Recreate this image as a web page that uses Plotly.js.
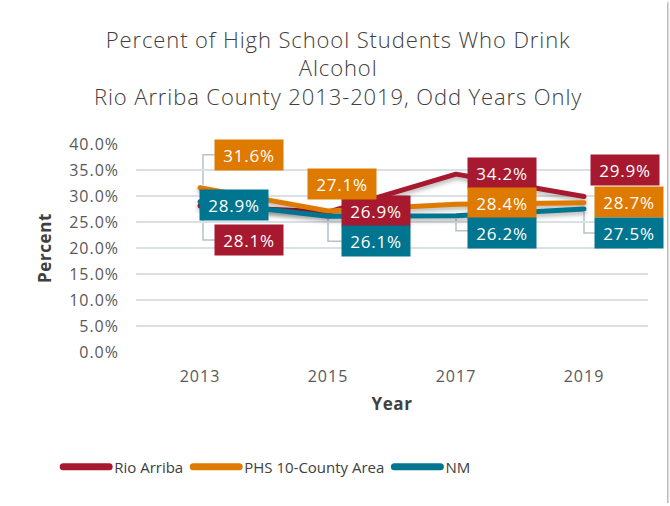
<!DOCTYPE html>
<html>
<head>
<meta charset="utf-8">
<script src="https://cdn.plot.ly/plotly-3.0.1.min.js"></script>
<style>
  html, body { margin: 0; padding: 0; background: #fff; }
  #chart { width: 667px; height: 503px; box-shadow: 1px 2px 2px #9a9a9a; }
  #chart .gtitle { letter-spacing: 0.9px; }
  #chart .xtick text, #chart .ytick text { letter-spacing: 1px; }
  #chart .annotation-text { letter-spacing: 0.8px; }
  #chart .xtitle, #chart .ytitle { letter-spacing: 0.6px; }
  #chart .scatterlayer .js-line {
    stroke-linejoin: round; stroke-linecap: round;
    filter: drop-shadow(0px 3px 2px rgba(0,0,0,0.28));
  }
  #chart .legendlines path { stroke-linecap: round; stroke-width: 7px !important; }
</style>
</head>
<body>
<div id="chart"></div>
<script>
// ---- data ----
const years = ["2013", "2015", "2017", "2019"];
const seriesNames = ["Rio Arriba", "PHS 10-County Area", "NM"];
const rioArriba = [28.1, 26.9, 34.2, 29.9];
const phsArea = [31.6, 27.1, 28.4, 28.7];
const nm = [28.9, 26.1, 26.2, 27.5];
const yTicks = [0, 5, 10, 15, 20, 25, 30, 35, 40];

// ---- styles ----
const FONT = "'Open Sans', Lato, sans-serif";
const colors = ["#A6192E", "#DF7A00", "#00758F"];
// label box offsets (pixels) from each data point, per series per year
const labelShift = [
  [[49, -34], [48, 1], [46, 1], [41, 27]],
  [[49, 33], [14, 27], [46, 1], [45, 1]],
  [[34, -3], [48, -25], [46, -17], [45, -24]]
];
const allSeries = [rioArriba, phsArea, nm];

const traces = allSeries.map((vals, i) => ({
  type: "scatter",
  mode: "lines",
  x: years,
  y: vals,
  name: seriesNames[i],
  line: { color: colors[i], width: 5 },
  hoverinfo: "skip"
}));

const annotations = [];
allSeries.forEach((vals, i) => {
  vals.forEach((v, j) => {
    annotations.push({
      x: j, y: v, xref: "x", yref: "y",
      text: v.toFixed(1) + "%",
      showarrow: false,
      xshift: labelShift[i][j][0], yshift: labelShift[i][j][1],
      bgcolor: colors[i],
      font: { family: FONT, size: 17, color: "#ffffff" },
      width: 60, height: 22, borderpad: 4,
      xanchor: "center", yanchor: "middle"
    });
  });
});

// leader lines (pixel paths anchored at data points)
const leaders = [
  { s: 1, j: 0, path: "M 3,3 L 3,33 L 15,33" },
  { s: 0, j: 0, path: "M 3,-6 L 3,-34 L 15,-34" },
  { s: 2, j: 1, path: "M 0,-3 L 0,-25 L 14,-25" },
  { s: 2, j: 2, path: "M 0,-3 L 0,-15 L 12,-15" },
  { s: 2, j: 3, path: "M 0,-3 L 0,-24 L 11,-24" }
];
const shapes = leaders.map(l => ({
  type: "path",
  xref: "x", yref: "y",
  xsizemode: "pixel", ysizemode: "pixel",
  xanchor: l.j, yanchor: allSeries[l.s][l.j],
  path: l.path,
  line: { color: "#b8c2cc", width: 1.5 },
  layer: "below"
}));

const layout = {
  width: 667, height: 503,
  margin: { l: 136, r: 19, t: 144, b: 151 },
  paper_bgcolor: "#ffffff",
  plot_bgcolor: "#ffffff",
  font: { family: FONT, color: "#595959" },
  title: {
    text: "Percent of High School Students Who Drink<br>Alcohol<br>Rio Arriba County 2013-2019, Odd Years Only",
    font: { family: FONT, size: 22, color: "#404040", weight: 300 },
    x: 0.507, xanchor: "center", xref: "container",
    y: 0.905, yanchor: "top", yref: "container"
  },
  xaxis: {
    type: "category",
    range: [-0.5, 3.5],
    showgrid: false, zeroline: false,
    showline: false,
    ticks: "",
    ticklabelstandoff: 13,
    tickfont: { size: 16, color: "#595959" },
    title: { text: "<b>Year</b>", font: { size: 17, color: "#404040" }, standoff: 12 },
    fixedrange: true
  },
  yaxis: {
    range: [0, 40],
    tickvals: yTicks,
    ticktext: yTicks.map(t => t.toFixed(1) + "%"),
    showgrid: true, gridcolor: "#dbe0e6", gridwidth: 1.5,
    zeroline: false,
    showline: false,
    ticks: "",
    ticklabelstandoff: 16,
    tickfont: { size: 16, color: "#595959" },
    title: { text: "<b>Percent</b>", font: { size: 17, color: "#404040" }, standoff: 18 },
    fixedrange: true
  },
  showlegend: true,
  legend: {
    orientation: "h",
    x: -0.152, xanchor: "left",
    y: -0.553, yanchor: "middle",
    font: { size: 15, color: "#404040" },
    itemwidth: 46,
    traceorder: "normal"
  },
  annotations: annotations,
  shapes: shapes
};

Plotly.newPlot("chart", traces, layout, { displayModeBar: false, staticPlot: true });
</script>
</body>
</html>
